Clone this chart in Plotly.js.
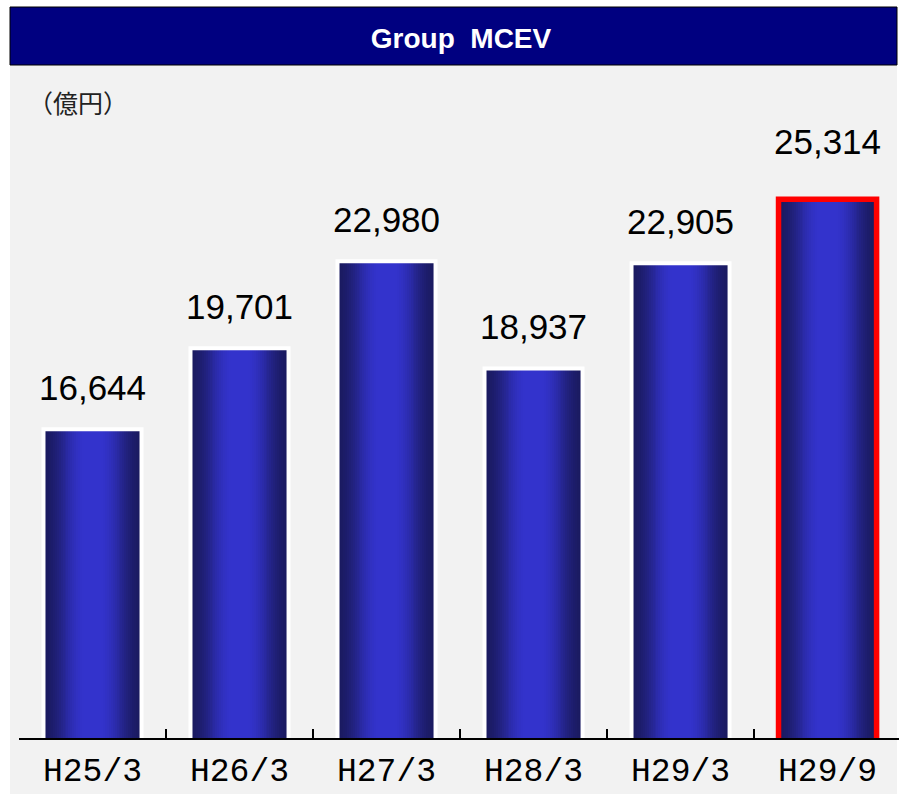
<!DOCTYPE html>
<html><head><meta charset="utf-8">
<script src="https://cdn.plot.ly/plotly-3.0.1.min.js"></script>
<style>html,body{margin:0;padding:0;background:#fff;overflow:hidden}#chart{width:899px;height:795px}</style>
</head><body><div id="chart"></div>
<script>
// ---- data ----
const categories = ["H25/3", "H26/3", "H27/3", "H28/3", "H29/3", "H29/9"];
const mcevValues = [16644, 19701, 22980, 18937, 22905, 25314];
const valueLabels = ["16,644", "19,701", "22,980", "18,937", "22,905", "25,314"];
const highlightIndex = 5;
const unitLabel = "（億円）";
const chartTitle = "Group\u00A0 MCEV";

// ---- styling helpers ----
const dark = [26, 26, 96], bright = [51, 51, 204];
function mix(t) {
  return "rgb(" + dark.map((c, i) => Math.round(c + (bright[i] - c) * t)).join(",") + ")";
}
const barW = 0.667;
const N = 22;
const plateau = 0.14;
const traces = [];
for (let k = 0; k <= N; k++) {
  const dk = 1 - (1 - plateau) * k / N;
  const dn = k < N ? 1 - (1 - plateau) * (k + 1) / N : 0;
  const m = (dk + dn) / 2;
  const t = Math.min(1, Math.max(0, (1 - m) / (1 - plateau)));
  const b = k === N ? 1 : 0.5 - 0.5 * Math.cos(Math.PI * t);
  traces.push({
    type: "bar", x: categories, y: mcevValues, width: barW * dk,
    marker: {color: mix(b), line: {width: 0}},
    hoverinfo: "skip", showlegend: false
  });
}
// outline trace on top
traces.push({
  type: "bar", x: categories, y: mcevValues, width: barW,
  marker: {
    color: "rgba(0,0,0,0)",
    line: {
      color: categories.map((c, i) => i === highlightIndex ? "#ff0000" : "#ffffff"),
      width: categories.map((c, i) => i === highlightIndex ? 5.5 : 4)
    }
  },
  hoverinfo: "skip", showlegend: false
});

const annotations = categories.map((c, i) => ({
  x: c, y: mcevValues[i], xref: "x", yref: "y",
  text: valueLabels[i], showarrow: false,
  yanchor: "bottom", xanchor: "center",
  yshift: i === highlightIndex ? 36 : 20,
  font: {family: "Liberation Sans, Arial, sans-serif", size: 35, color: "#000"}
}));
annotations.push({
  xref: "paper", yref: "paper", x: (26 - 19) / 880, y: (738 - 102) / 663,
  xanchor: "left", yanchor: "middle", showarrow: false, text: unitLabel,
  font: {family: "Noto Sans CJK JP, sans-serif", size: 25, color: "#222"}
});

const layout = {
  width: 899, height: 795,
  margin: {l: 19, r: 0, t: 75, b: 57},
  paper_bgcolor: "#ffffff",
  plot_bgcolor: "rgba(0,0,0,0)",
  barmode: "overlay",
  bargap: 0,
  showlegend: false,
  title: {
    text: chartTitle, xref: "container", yref: "container",
    x: 461 / 899, y: 1 - 38 / 795, xanchor: "center", yanchor: "middle",
    font: {family: "Liberation Sans, Arial, sans-serif", size: 28, color: "#ffffff", weight: "bold"}
  },
  xaxis: {
    type: "category", range: [-0.5, 5.486],
    showline: true, linecolor: "#000", linewidth: 1.5,
    ticks: "inside", tickson: "boundaries", ticklen: 9, tickwidth: 1.2, tickcolor: "#000",
    showgrid: false, zeroline: false, fixedrange: true,
    ticklabelstandoff: 2,
    tickfont: {family: "Liberation Mono, monospace", size: 33, color: "#000"}
  },
  yaxis: {
    range: [5000, 30000], visible: false, showgrid: false, zeroline: false, fixedrange: true
  },
  shapes: [
    {type: "rect", xref: "paper", yref: "paper", layer: "below",
     x0: (10 - 19) / 880, x1: (897 - 19) / 880, y0: (738 - 794) / 663, y1: (738 - 65) / 663,
     fillcolor: "#f2f2f2", line: {width: 0}},
    {type: "rect", xref: "paper", yref: "paper", layer: "below",
     x0: (10 - 19) / 880, x1: (897 - 19) / 880, y0: (738 - 65) / 663, y1: (738 - 7) / 663,
     fillcolor: "#000080", line: {color: "#000", width: 1}}
  ],
  annotations: annotations
};

Plotly.newPlot("chart", traces, layout, {displayModeBar: false, staticPlot: true});
</script>
</body></html>
